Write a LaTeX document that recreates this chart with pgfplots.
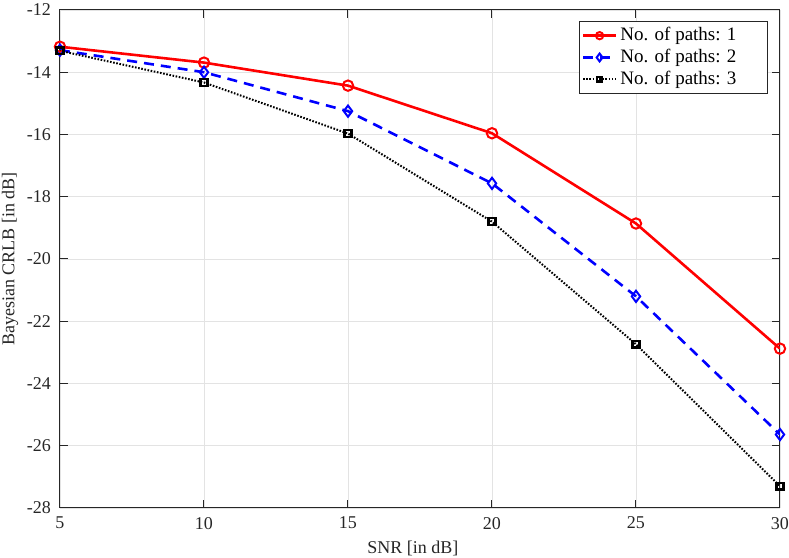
\documentclass[border=0pt]{standalone}
\usepackage{fontspec}
\setmainfont{Liberation Serif}
\usepackage{pgfplots}
\pgfplotsset{compat=1.18}
\definecolor{axgray}{gray}{0.15}
\definecolor{gridgray}{gray}{0.89}
\begin{document}
\begin{tikzpicture}
\useasboundingbox (0,0) rectangle (394.5pt,279pt);
\begin{axis}[
  at={(30pt,25pt)}, anchor=south west,
  scale only axis, width=360pt, height=249pt,
  xmin=5, xmax=30, ymin=-28, ymax=-12,
  xtick={5,10,15,20,25,30},
  xticklabels={5,10,15,20,25,30},
  ytick={-28,-26,-24,-22,-20,-18,-16,-14,-12},
  yticklabels={-28,-26,-24,-22,-20,-18,-16,-14,-12},
  /pgf/number format/assume math mode=true,
  tick align=inside, tick pos=both,
  major tick length=3.8pt,
  grid=major,
  major grid style={gridgray, line width=0.4pt},
  axis line style={axgray, line width=0.5pt},
  every tick/.style={axgray, line width=0.5pt},
  ticklabel style={font=\fontsize{9}{10}\selectfont, text=axgray},
  xticklabel style={yshift=-1pt},
  yticklabel style={xshift=-1pt},
  xlabel={SNR [in dB]},
  ylabel={Bayesian CRLB [in dB]},
  label style={font=\fontsize{9}{10}\selectfont, text=axgray},
  xlabel style={at={(axis description cs:0.49,-0.081)}, anchor=center},
  ylabel style={at={(axis description cs:-0.0695,0.5)}, anchor=center},
  legend style={at={(1,1)}, anchor=north east, xshift=-6pt, yshift=-5.3pt,
    font=\fontsize{9.5}{11.7}\selectfont, draw=axgray, line width=0.5pt,
    inner xsep=1pt, inner ysep=1.2pt, row sep=-1.3pt,
    /tikz/every even column/.append style={column sep=0pt},
    cells={anchor=west}, nodes={inner xsep=1.5pt}},
  legend image code/.code={
    \draw[mark repeat=2,mark phase=2,#1,/tikz/every mark/.append style={scale=0.7}] plot coordinates {(0pt,0pt) (8.25pt,0pt) (16.5pt,0pt)};
  },
]
\addplot[red, line width=1.3pt, mark=o, mark size=2.6pt, mark options={solid, line width=1pt}]
  coordinates {(5,-13.18) (10,-13.69) (15,-14.43) (20,-15.96) (25,-18.86) (30,-22.88)};
\addlegendentry{No. of paths: 1\hspace*{13pt}}
\addplot[blue, line width=1.3pt, dash pattern=on 5pt off 3.5pt, mark=diamond, mark size=2.8pt, mark options={solid, line width=1pt}]
  coordinates {(5,-13.29) (10,-14.0) (15,-15.25) (20,-17.57) (25,-21.2) (30,-25.64)};
\addlegendentry{No. of paths: 2\hspace*{13pt}}
\addplot[black, line width=1pt, dash pattern=on 0.8pt off 0.8pt, mark=square, mark size=1.7pt, mark options={solid, line width=1.2pt}]
  coordinates {(5,-13.31) (10,-14.33) (15,-15.97) (20,-18.8) (25,-22.74) (30,-27.3)};
\addlegendentry{No. of paths: 3\hspace*{13pt}}
\end{axis}
\end{tikzpicture}
\end{document}
